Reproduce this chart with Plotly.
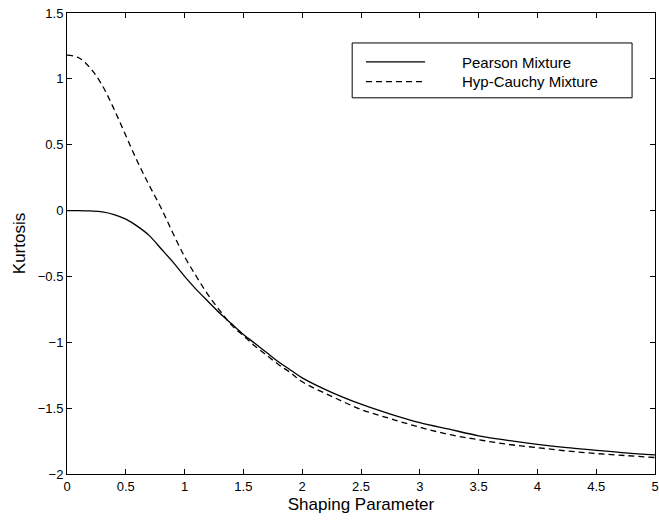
import plotly.graph_objects as go

# Data
x_vals = [0, 0.1, 0.2, 0.3, 0.4, 0.5, 0.6, 0.7, 0.8, 0.9, 1.0, 1.1, 1.2, 1.3, 1.4,
          1.5, 1.6, 1.7, 1.8, 1.9, 2.0, 2.25, 2.5, 2.75, 3.0, 3.25, 3.5, 3.75,
          4.0, 4.25, 4.5, 4.75, 5.0]
pearson = [0, 0, -0.003, -0.01, -0.03, -0.065, -0.12, -0.19, -0.29, -0.39, -0.50,
           -0.60, -0.69, -0.78, -0.86, -0.94, -1.01, -1.08, -1.15, -1.21, -1.27,
           -1.38, -1.47, -1.545, -1.61, -1.66, -1.71, -1.745, -1.775, -1.80,
           -1.82, -1.84, -1.855]
hyp_cauchy = [1.18, 1.16, 1.08, 0.95, 0.77, 0.57, 0.37, 0.19, 0.02, -0.17, -0.35,
              -0.50, -0.64, -0.76, -0.87, -0.95, -1.03, -1.10, -1.17, -1.23, -1.30,
              -1.41, -1.51, -1.58, -1.645, -1.70, -1.74, -1.775, -1.80, -1.825,
              -1.845, -1.86, -1.875]

x_ticks = [0, 0.5, 1, 1.5, 2, 2.5, 3, 3.5, 4, 4.5, 5]
x_tick_text = ["0", "0.5", "1", "1.5", "2", "2.5", "3", "3.5", "4", "4.5", "5"]
y_ticks = [-2, -1.5, -1, -0.5, 0, 0.5, 1, 1.5]
y_tick_text = ["\u22122", "\u22121.5", "\u22121", "\u22120.5", "0", "0.5", "1", "1.5"]

series_names = ["Pearson Mixture", "Hyp-Cauchy Mixture"]

FONT = "Liberation Sans, Arial, Helvetica, sans-serif"

fig = go.Figure()
fig.add_trace(go.Scatter(x=x_vals, y=pearson, mode="lines", name=series_names[0],
                         line=dict(color="black", width=1.3, shape="spline"),
                         showlegend=False))
fig.add_trace(go.Scatter(x=x_vals, y=hyp_cauchy, mode="lines", name=series_names[1],
                         line=dict(color="black", width=1.3, dash="6px,4px", shape="spline"),
                         showlegend=False))

# Manual legend box (paper coordinates)
fig.add_shape(type="rect", xref="paper", yref="paper", x0=0.485, x1=0.961, y0=0.816, y1=0.935,
              line=dict(color="black", width=1), fillcolor="white", layer="above")
fig.add_shape(type="line", xref="paper", yref="paper", x0=0.5085, x1=0.609, y0=0.894, y1=0.894,
              line=dict(color="black", width=1.3))
fig.add_shape(type="line", xref="paper", yref="paper", x0=0.5085, x1=0.609, y0=0.851, y1=0.851,
              line=dict(color="black", width=1.3, dash="6px,4px"))
fig.add_annotation(xref="paper", yref="paper", x=0.668, y=0.892, text=series_names[0],
                   showarrow=False, xanchor="left", yanchor="middle",
                   font=dict(family=FONT, size=15, color="black"))
fig.add_annotation(xref="paper", yref="paper", x=0.668, y=0.851, text=series_names[1],
                   showarrow=False, xanchor="left", yanchor="middle",
                   font=dict(family=FONT, size=15, color="black"))

axis_common = dict(showline=True, linecolor="black", linewidth=1, mirror="ticks",
                   ticks="inside", ticklen=5, tickcolor="black", showgrid=False,
                   zeroline=False, ticklabeloverflow="allow",
                   tickfont=dict(family=FONT, size=13, color="black"))

fig.update_xaxes(range=[0, 5], tickvals=x_ticks, ticktext=x_tick_text,
                 title=dict(text="Shaping Parameter", font=dict(family=FONT, size=17, color="black"),
                            standoff=5),
                 **axis_common)
fig.update_yaxes(range=[-2, 1.5], tickvals=y_ticks, ticktext=y_tick_text,
                 title=dict(text="Kurtosis", font=dict(family=FONT, size=17, color="black"),
                            standoff=7),
                 **axis_common)

fig.update_layout(width=659, height=523, margin=dict(l=67, r=4, t=13, b=49, autoexpand=False),
                  plot_bgcolor="white", paper_bgcolor="white",
                  font=dict(family=FONT, color="black"))

fig.write_html("out.html", config={"displayModeBar": False},
               post_script="document.body.style.margin='0';")
